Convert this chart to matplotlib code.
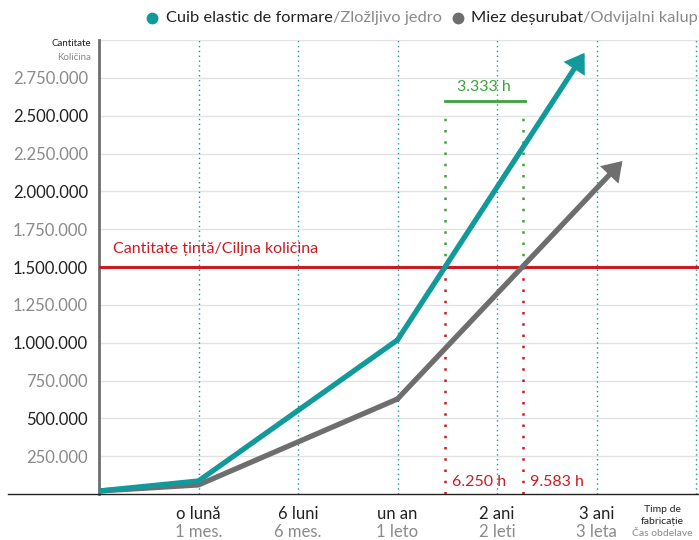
import matplotlib
matplotlib.use("Agg")
import matplotlib.pyplot as plt
from matplotlib.patches import FancyArrowPatch
from matplotlib.lines import Line2D

plt.rcParams['font.family'] = ['Lato', 'DejaVu Sans']

# ---- data ----
teal_x = [0, 1, 3, 4.88]
teal_y = [20000, 86000, 1018000, 2915000]
grey_x = [0, 1, 3, 5.26]
grey_y = [20000, 60000, 628000, 2200000]
target = 1500000
cross_teal = 3.48
cross_grey = 4.26
green_y = 2600000
green_top = 2510000
y_ticks = [250000, 500000, 750000, 1000000, 1250000, 1500000, 1750000,
           2000000, 2250000, 2500000, 2750000]
x_pos = [1, 2, 3, 4, 5]
x_lab_ro = ["o lună", "6 luni", "un an", "2 ani", "3 ani"]
x_lab_sl = ["1 mes.", "6 mes.", "1 leto", "2 leti", "3 leta"]
vlines = [1, 2, 3, 4, 5, 6]

TEAL = "#12999c"
GREY = "#6e6e6e"
RED = "#cc1a22"
GREEN = "#3aa43a"
DARK = "#222222"
LIGHT = "#8a8a8a"

fig = plt.figure(figsize=(6.99, 5.40), dpi=100)
ax = fig.add_axes([99/699, 1-494/540, 600/699, 454/540])
ax.set_xlim(0, 600/99.5)
ax.set_ylim(0, 3000000)

for s in ['top', 'right', 'bottom']:
    ax.spines[s].set_visible(False)
ax.spines['left'].set_color(GREY)
ax.spines['left'].set_linewidth(2)

# gridlines
for yv in y_ticks + [3000000]:
    ax.axhline(yv, color="#e3e3e3", lw=1, zorder=0)
for xv in vlines:
    ax.axvline(xv, color=TEAL, lw=1, ls=(0, (1, 2.5)), zorder=1)

# target line
ax.axhline(target, color=RED, lw=2.2, zorder=3)
ax.text(0.14, target + 70000, "Cantitate țintă/Ciljna količina", color=RED,
        fontsize=11.5, va='bottom', ha='left')

# marker lines
for cx in [cross_teal, cross_grey]:
    ax.plot([cx, cx], [0, target], color=RED, lw=1.8, ls=(0, (1, 3.5)), zorder=2)
    ax.plot([cx, cx], [target, green_top], color=GREEN, lw=1.8, ls=(0, (1, 3.5)), zorder=2)
ax.plot([cross_teal, cross_grey + 0.02], [green_y, green_y], color=GREEN, lw=2, zorder=3)
ax.text((cross_teal + cross_grey) / 2, green_y + 40000, "3.333 h", color=GREEN,
        fontsize=11.5, ha='center', va='bottom')
ax.text(cross_teal + 0.07, 30000, "6.250 h", color=RED, fontsize=11.5, va='bottom', ha='left')
ax.text(cross_grey + 0.07, 30000, "9.583 h", color=RED, fontsize=11.5, va='bottom', ha='left')

# series
for xs, ys, c in [(grey_x, grey_y, GREY), (teal_x, teal_y, TEAL)]:
    ax.plot(xs[:-1], ys[:-1], color=c, lw=3.8, solid_capstyle='round',
            solid_joinstyle='round', zorder=4)
    arr = FancyArrowPatch((xs[-2], ys[-2]), (xs[-1], ys[-1]),
                          arrowstyle='-|>,head_length=0.42,head_width=0.28',
                          mutation_scale=20, color=c, lw=3.8, shrinkA=0, shrinkB=0,
                          joinstyle='miter', capstyle='round', zorder=4)
    ax.add_patch(arr)

# y ticks
ax.set_yticks(y_ticks)
labels = [f"{v:,}".replace(",", ".") for v in y_ticks]
ax.set_yticklabels(labels, fontsize=12)
ax.tick_params(axis='y', length=0, pad=8)
for i, t in enumerate(ax.get_yticklabels()):
    t.set_color(DARK if (i % 2 == 1) else LIGHT)
ax.set_xticks([])

# y-axis title
fig.text(91/699, 1-44/540, "Cantitate", fontsize=7, ha='right', va='center', color=DARK)
fig.text(91/699, 1-57/540, "Količina", fontsize=7, ha='right', va='center', color=LIGHT)

# x labels
for xp, a, b in zip(x_pos, x_lab_ro, x_lab_sl):
    ax.text(xp, -0.043, a, transform=ax.get_xaxis_transform(), ha='center', va='center',
            fontsize=12, color=DARK)
    ax.text(xp, -0.084, b, transform=ax.get_xaxis_transform(), ha='center', va='center',
            fontsize=12, color=LIGHT)
fig.text(662/699, 1-510/540, "Timp de", fontsize=7.5, ha='center', va='center', color=DARK)
fig.text(662/699, 1-521/540, "fabricație", fontsize=7.5, ha='center', va='center', color=DARK)
fig.text(662/699, 1-533/540, "Čas obdelave", fontsize=7.5, ha='center', va='center', color=LIGHT)

# x axis line
fig.add_artist(Line2D([8/699, 1], [1-494/540, 1-494/540], color=DARK, lw=1))

# legend
ly = 1 - 18/540
fig.add_artist(Line2D([152/699], [ly], marker='o', ms=7.5, color=TEAL, lw=0))
t1 = fig.text(166/699, ly, "Cuib elastic de formare", color=DARK, fontsize=11.8, va='center')
fig.canvas.draw()
r = fig.canvas.get_renderer()
bb = t1.get_window_extent(r)
fig.text(bb.x1/699, ly, "/Zložljivo jedro", color=LIGHT, fontsize=11.8, va='center')
fig.add_artist(Line2D([458/699], [ly], marker='o', ms=7.5, color=GREY, lw=0))
t2 = fig.text(471/699, ly, "Miez deșurubat", color=DARK, fontsize=11.8, va='center')
bb2 = t2.get_window_extent(r)
fig.text(bb2.x1/699, ly, "/Odvijalni kalup", color=LIGHT, fontsize=11.8, va='center')

fig.savefig("out.png", dpi=100)
